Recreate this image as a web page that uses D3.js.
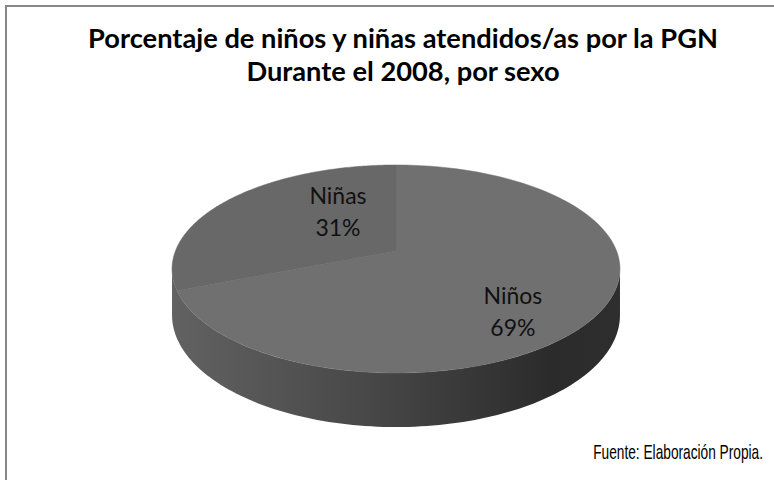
<!DOCTYPE html>
<html>
<head>
<meta charset="utf-8">
<script src="https://cdn.jsdelivr.net/npm/d3@7"></script>
<style>
  html, body { margin: 0; padding: 0; background: #fff; }
  svg { display: block; }
</style>
</head>
<body>
<svg id="chart" width="774" height="480"></svg>
<script>
// ---- data ----
const categories = ["Niños", "Niñas"];
const values = [69, 31];
const percentLabels = ["69%", "31%"];
const titleLines = ["Porcentaje de niños y niñas atendidos/as por la PGN", "Durante el 2008, por sexo"];
const sourceNote = "Fuente: Elaboración Propia.";

// ---- layout ----
const W = 774, H = 480;
const cx = 396, cy = 251;      // projected pie centre
const R = 220.6, RY = 100.9;   // horizontal radius, vertical (tilted) radius
const K = 0.173;               // perspective strength
const DEPTH = 44.7;            // pie thickness
const topColors = ["#707070", "#686868"];
const labelNudge = [[21, 31], [29, -12]];

const svg = d3.select("#chart");

// border (chart area frame)
svg.append("path")
  .attr("d", `M6,${H} L6,6 L${W},6`)
  .attr("fill", "none")
  .attr("stroke", "#878787")
  .attr("stroke-width", 2);

// title
const title = svg.append("g");
const titleTexts = titleLines.map((t, i) => title.append("text")
    .attr("x", 403)
    .attr("y", 48 + i * 33)
    .attr("text-anchor", "middle")
    .attr("font-family", "Lato, 'Open Sans', sans-serif")
    .attr("font-weight", "bold")
    .attr("font-size", 24)
    .attr("fill", "#000")
    .text(t));
// scale font so the first line spans the same width as the original
const w0 = titleTexts[0].node().getComputedTextLength();
const fs = 24 * 630 / w0;
titleTexts.forEach(t => t.attr("font-size", fs));

// projection of a point on the disc (angle clockwise from 12 o'clock)
function proj(theta, f = 1, drop = 0) {
  const u = Math.sin(theta) * f, v = -Math.cos(theta) * f;
  const s = 1 / (1 - K * v);
  return [cx + R * u * s, cy + RY * v * s + drop * s];
}
function samples(a0, a1, n) {
  return d3.range(n + 1).map(i => a0 + (a1 - a0) * i / n);
}
const line = d3.line();

const pie = d3.pie().sort(null).value(d => d)(values);

// defs: wall gradient
const defs = svg.append("defs");
const grad = defs.append("linearGradient").attr("id", "wallGrad")
  .attr("gradientUnits", "userSpaceOnUse")
  .attr("x1", cx - R * 1.02).attr("x2", cx + R * 1.02).attr("y1", 0).attr("y2", 0);
grad.append("stop").attr("offset", "0%").attr("stop-color", "#626262");
grad.append("stop").attr("offset", "45%").attr("stop-color", "#474747");
grad.append("stop").attr("offset", "85%").attr("stop-color", "#2b2b2b");
grad.append("stop").attr("offset", "100%").attr("stop-color", "#2e2e2e");

// outer wall (front half, between the silhouette tangents)
const tA = Math.acos(-K);             // right tangent
const tB = 2 * Math.PI - tA;          // left tangent
const topRim = samples(tA, tB, 120).map(t => proj(t));
const botRim = samples(tB, tA, 120).map(t => proj(t, 1, DEPTH));
svg.append("path")
  .attr("d", line(topRim.concat(botRim)) + "Z")
  .attr("fill", "url(#wallGrad)");

// top faces
pie.forEach((p, i) => {
  const pts = [[cx, cy]].concat(samples(p.startAngle, p.endAngle, 160).map(t => proj(t)));
  svg.append("path")
    .attr("d", line(pts) + "Z")
    .attr("fill", topColors[i])
    .attr("stroke", topColors[i])
    .attr("stroke-width", 0.5);
});

// labels
pie.forEach((p, i) => {
  const mid = (p.startAngle + p.endAngle) / 2;
  const c = proj(mid, 0.5);
  const x = c[0] + labelNudge[i][0], y = c[1] + labelNudge[i][1];
  const g = svg.append("text")
    .attr("text-anchor", "middle")
    .attr("font-family", "Lato, 'Open Sans', sans-serif")
    .attr("font-size", 23)
    .attr("fill", "#111");
  g.append("tspan").attr("x", x).attr("y", y - 8).text(categories[i]);
  g.append("tspan").attr("x", x).attr("y", y + 24).text(percentLabels[i]);
});

// source note (narrow sans: regular sans compressed horizontally)
const note = svg.append("text")
  .attr("x", 0)
  .attr("y", 0)
  .attr("text-anchor", "end")
  .attr("font-family", "'Liberation Sans Narrow', 'Liberation Sans', Arial, sans-serif")
  .attr("font-size", 20)
  .attr("fill", "#000")
  .text(sourceNote);
const nw = note.node().getComputedTextLength();
note.attr("transform", `translate(763,459) scale(${170 / nw},1)`);
</script>
</body>
</html>
